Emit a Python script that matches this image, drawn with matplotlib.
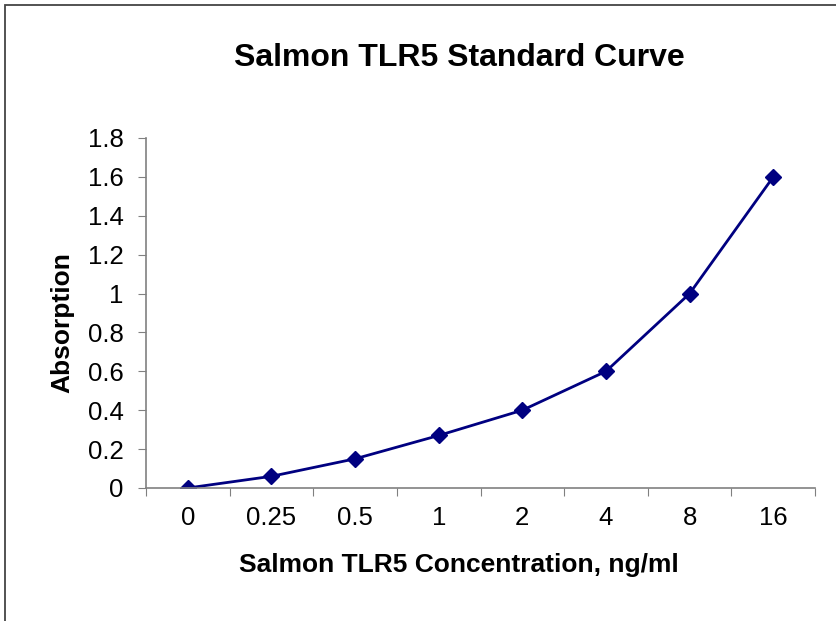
import matplotlib.pyplot as plt
from matplotlib.patches import Rectangle

plt.rcParams['font.family'] = ['Liberation Sans', 'DejaVu Sans']

# Data
concentrations = ['0', '0.25', '0.5', '1', '2', '4', '8', '16']
absorption = [0.0, 0.06, 0.15, 0.27, 0.40, 0.60, 1.00, 1.60]
y_ticks = [0, 0.2, 0.4, 0.6, 0.8, 1, 1.2, 1.4, 1.6, 1.8]
y_tick_labels = ['0', '0.2', '0.4', '0.6', '0.8', '1', '1.2', '1.4', '1.6', '1.8']

fig = plt.figure(figsize=(8.36, 6.21), dpi=100)
ax = fig.add_axes([0.1746, 0.2142, 0.8004, 0.5636])

# outer chart border (cut off at right and bottom)
fig.patches.append(Rectangle((0.006, -0.01), 1.0, 0.002 + 0.0, transform=fig.transFigure,
                             fill=False, edgecolor='none'))
fig.patches.append(Rectangle((5 / 836, -0.05), 1.0, 1.05 - 5 / 621, transform=fig.transFigure,
                             fill=False, edgecolor='#444444', linewidth=1.3))

x = list(range(len(concentrations)))
ax.plot(x, absorption, color='#000080', linewidth=2.0, marker='D',
        markersize=8, markerfacecolor='#000080', markeredgecolor='#000080')

ax.set_xlim(-0.5, len(concentrations) - 0.5)
ax.set_ylim(0, 1.8)
ax.set_yticks(y_ticks)
ax.set_yticklabels(y_tick_labels, fontsize=18.5)

# category labels centered, ticks at boundaries
ax.set_xticks([i - 0.5 for i in range(len(concentrations) + 1)])
ax.set_xticklabels([])
ax.set_xticks(x, minor=True)
ax.set_xticklabels(concentrations, minor=True, fontsize=18.5)
ax.tick_params(axis='x', which='minor', length=0, pad=13)
ax.tick_params(axis='x', which='major', length=6, direction='out', color='#808080')
ax.tick_params(axis='y', length=6, direction='out', color='#808080', pad=10)

for s in ['top', 'right']:
    ax.spines[s].set_visible(False)
for s in ['left', 'bottom']:
    ax.spines[s].set_color('#808080')
    ax.spines[s].set_linewidth(1.2)

ax.set_xlabel('Salmon TLR5 Concentration, ng/ml', fontsize=19, fontweight='bold')
ax.xaxis.set_label_coords(0.468, -0.22)
ax.xaxis.label.set_va('center')
ax.set_ylabel('Absorption', fontsize=19, fontweight='bold')
ax.yaxis.set_label_coords(-0.1256, 0.474)
ax.yaxis.label.set_va('center')
fig.text(0.549, 0.907, 'Salmon TLR5 Standard Curve', fontsize=23, fontweight='bold',
         ha='center', va='center')

fig.savefig('out.png', dpi=100)
